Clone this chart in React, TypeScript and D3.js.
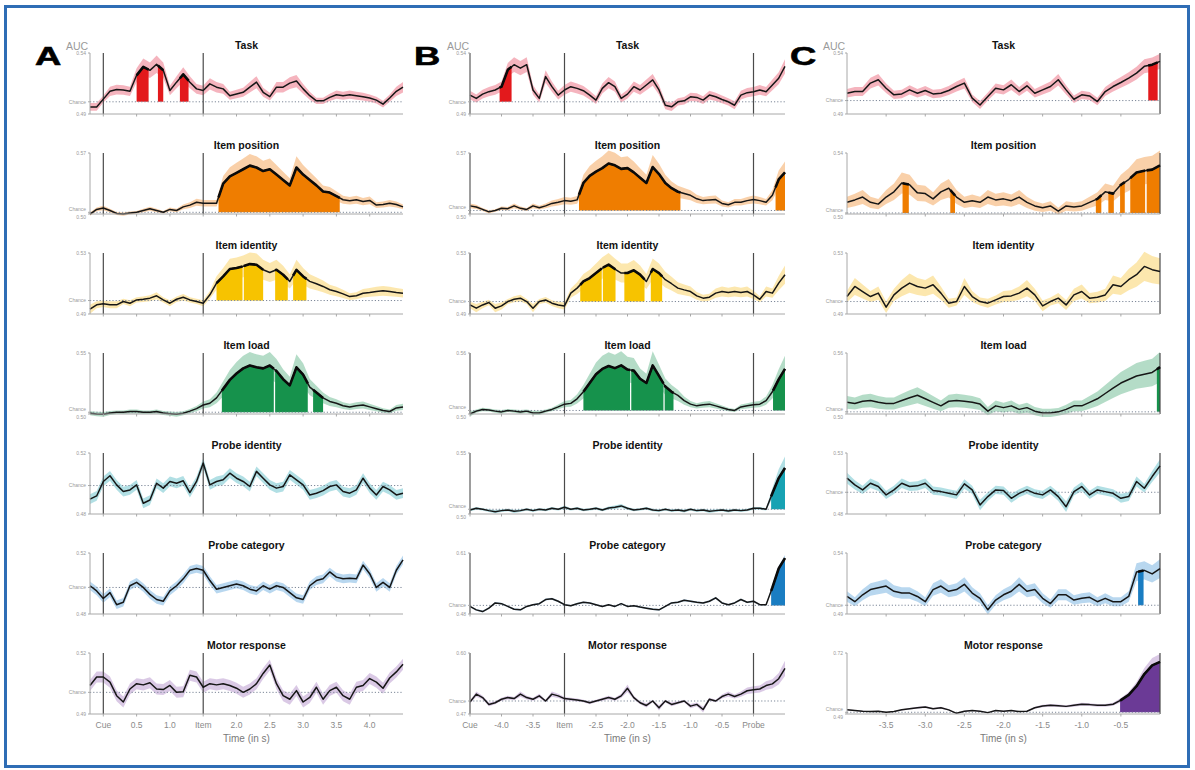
import React from "react";
import * as d3 from "d3";

// ---------- categories / labels ----------
const ROW_TITLES = ["Task", "Item position", "Item identity", "Item load", "Probe identity", "Probe category", "Motor response"];
const FILL_COLORS = ["#e3191c", "#ef7d00", "#f7c300", "#16924c", "#17a2b3", "#1a7dc2", "#6b3a96"];
const BAND_COLORS = ["#f3a7b3", "#f8c89a", "#fbe3a0", "#a7d6bd", "#a3d9df", "#acd0ec", "#d4bfe0"];

const STEP = 0.1;

// ---------- Panel A (time relative to cue, 0.1 s step from -0.2 s) ----------
const A_T0 = -0.2;
const A_task = [.4958,.4958,.5022,.5086,.510,.5097,.5086,.5217,.5286,.5258,.5308,.5258,.5092,.5161,.5225,.5161,.5106,.5092,.5147,.512,.5106,.505,.5064,.5078,.512,.5161,.5078,.5042,.512,.512,.5153,.517,.5106,.505,.5008,.5008,.5036,.5058,.505,.5058,.505,.5042,.5031,.5014,.4981,.5031,.5086,.512];
const A_itemPos = [.4979,.5034,.5051,.5021,.4987,.4979,.4992,.5,.5021,.5042,.5021,.5,.5034,.5021,.5064,.5085,.5119,.5106,.5106,.5106,.5339,.5424,.5466,.5508,.5551,.5529,.5487,.5508,.5445,.5381,.5318,.5529,.5445,.5381,.5318,.5246,.5233,.5191,.5148,.5136,.5148,.5127,.514,.5085,.5093,.5106,.5093,.5064];
const A_itemId = [.4945,.4973,.4979,.4973,.4973,.4994,.4983,.5004,.5008,.5015,.503,.5004,.4983,.5008,.5021,.5004,.4994,.4983,.5036,.511,.5152,.5199,.5205,.5216,.523,.5226,.5194,.5177,.5194,.5163,.5121,.5194,.5152,.5121,.5106,.5089,.5068,.5057,.5042,.5025,.503,.5046,.5051,.5057,.5061,.5057,.5051,.5046];
const A_itemLoad = [.4991,.4985,.4982,.4994,.5,.5,.5006,.5006,.5,.5,.5006,.4994,.4988,.4982,.4991,.5009,.503,.5061,.5076,.5121,.5197,.5273,.5327,.537,.5394,.5379,.537,.5394,.5348,.5279,.5227,.5379,.5318,.5212,.5167,.5121,.5091,.5076,.5055,.5045,.5055,.5061,.5045,.503,.5015,.5006,.5036,.5045];
const A_probeId = [.4916,.4936,.5025,.506,.5004,.4963,.4973,.5004,.4891,.4911,.5014,.4984,.5025,.5014,.5029,.4957,.5025,.5138,.5004,.5025,.5035,.5076,.5045,.5025,.4994,.5087,.5045,.5004,.4984,.4994,.5066,.5035,.5004,.4942,.4953,.4969,.4994,.5004,.4963,.4953,.4973,.5045,.4984,.4942,.4994,.4973,.4942,.4953];
const A_probeCat = [.501,.498,.4936,.497,.49,.4914,.501,.503,.5,.496,.493,.492,.498,.501,.505,.51,.511,.51,.504,.499,.5,.501,.502,.501,.499,.498,.501,.499,.501,.5,.497,.494,.493,.501,.504,.505,.509,.506,.505,.5054,.505,.513,.508,.5,.503,.5,.51,.516];
const A_motor = [.5035,.5078,.5078,.5052,.4983,.4951,.5017,.5044,.5038,.5049,.5017,.5014,.5035,.5,.5003,.5087,.5078,.5026,.5044,.5038,.5044,.5035,.5021,.5,.5017,.5044,.5096,.5139,.5044,.4983,.4965,.5009,.4951,.4974,.5026,.4965,.5009,.5026,.4983,.4965,.5026,.5035,.507,.5052,.5021,.5073,.5104,.5143];
const A_sig = [
  [[0.5, 0.68], [0.82, 0.9], [1.15, 1.28]],
  [[1.73, 3.55]],
  [[1.7, 2.09], [2.11, 2.4], [2.58, 2.77], [2.85, 3.05]],
  [[1.78, 2.56], [2.58, 3.07], [3.15, 3.3]],
  [], [], [],
];
const A_yLo = [0.49, 0.498, 0.4915, 0.4985, 0.4825, 0.4846, 0.489];
const A_yHi = [0.54, 0.57, 0.53, 0.55, 0.52, 0.52, 0.52];
const A_yTopLbl = ["0.54", "0.57", "0.53", "0.55", "0.52", "0.52", "0.52"];
const A_yBotLbl = ["0.49", "0.50", "0.49", "0.50", "0.48", "0.48", "0.49"];
const A_ciBase = [0.0025, 0.0015, 0.0015, 0.0015, 0.003, 0.0025, 0.0028];
const A_ciGain = [0.15, 0.22, 0.25, 0.25, 0, 0, 0];
const A_ticks = [0, 0.5, 1, 1.5, 2, 2.5, 3, 3.5, 4];
const A_tickLbl = ["Cue", "0.5", "1.0", "Item", "2.0", "2.5", "3.0", "3.5", "4.0"];
const A_events = [0, 1.5];

// ---------- Panel B (time relative to probe, from -4.5 s) ----------
const B_T0 = -4.5;
const B_task = [.5055,.5028,.5063,.5083,.5097,.5124,.5262,.5304,.5276,.5304,.5097,.5028,.5207,.5124,.5055,.5097,.5124,.511,.5091,.5055,.5014,.511,.5157,.5124,.5028,.5063,.5124,.5097,.5138,.5179,.5097,.4972,.4959,.5,.5008,.5041,.5036,.5014,.5055,.5041,.5019,.5,.4972,.5055,.5075,.5083,.5097,.5083,.5138,.5193,.529];
const B_itemPos = [.5056,.5043,.5013,.4983,.5,.5026,.5022,.5056,.5026,.5013,.5056,.5034,.5056,.5086,.5099,.512,.5112,.5129,.5335,.5421,.5473,.5516,.5572,.555,.5507,.5516,.5464,.54,.5335,.5529,.5443,.5335,.5271,.5228,.5206,.5185,.5142,.512,.5129,.5133,.5086,.5069,.5099,.5099,.512,.5133,.512,.5099,.5185,.5378,.5464];
const B_itemId = [.4979,.4959,.4979,.4994,.4959,.4973,.5,.5014,.5021,.5,.4959,.5,.501,.499,.4979,.4973,.5052,.5083,.5124,.5145,.5176,.5207,.5228,.5201,.5176,.5176,.5193,.5166,.5124,.5201,.5176,.5135,.511,.5083,.5072,.5062,.5035,.5021,.5027,.5052,.5062,.5056,.5062,.5056,.5062,.5041,.5014,.5062,.5052,.5114,.5166];
const B_itemLoad = [.4963,.4993,.5011,.5004,.4993,.4985,.5,.4993,.4985,.4993,.4974,.4974,.4993,.5011,.5037,.5066,.5074,.5121,.5195,.5287,.5379,.5434,.5464,.5442,.5471,.5427,.5416,.5331,.5287,.5471,.5361,.525,.5195,.5158,.5103,.5066,.5048,.5059,.5066,.5048,.5029,.5011,.5,.5037,.5048,.5059,.5066,.5103,.5195,.5324,.5434];
const B_probeId = [.4994,.5009,.5,.4988,.4979,.4988,.4994,.4982,.4988,.5,.4988,.5,.4994,.5009,.5,.5018,.5,.5009,.4994,.5,.5009,.4994,.5012,.5018,.503,.5009,.4994,.5,.5009,.4994,.4988,.5,.4988,.4994,.4985,.5,.4988,.4994,.4982,.4988,.4994,.4985,.4994,.4988,.4994,.5009,.5009,.5,.5143,.5277,.5367];
const B_probeCat = [.4978,.4906,.487,.4942,.5051,.5036,.4978,.492,.4906,.4978,.5014,.5036,.5123,.5138,.5087,.5014,.4993,.5036,.5065,.5051,.5014,.4978,.5014,.4978,.5036,.4978,.4993,.4964,.4942,.492,.4906,.4978,.5051,.5065,.5109,.5087,.5065,.5051,.5087,.5159,.5051,.5014,.5051,.5123,.5065,.5087,.5014,.5014,.5376,.5775,.5992];
const B_motor = [.4979,.5143,.5071,.4929,.4964,.5036,.5071,.505,.5143,.5071,.5036,.5107,.5,.5143,.5107,.505,.5036,.5021,.5,.4964,.5,.5036,.5071,.5036,.5107,.5264,.5071,.4964,.4907,.5,.4857,.5,.4929,.4964,.5,.4893,.4929,.4822,.5036,.5,.5093,.5143,.5093,.5143,.5214,.5236,.525,.5321,.5357,.5464,.5679];
const B_sig = [
  [[-4.03, -3.84]],
  [[-2.77, -1.16], [0.35, 0.5]],
  [[-2.75, -2.41], [-2.39, -2.19], [-2.05, -1.73], [-1.63, -1.45]],
  [[-2.7, -1.96], [-1.94, -1.43], [-1.41, -1.27], [0.31, 0.5]],
  [[0.28, 0.5]],
  [[0.28, 0.5]],
  [],
];
const B_yLo = [0.49, 0.4957, 0.4923, 0.4963, 0.4958, 0.4819, 0.4729];
const B_yHi = [0.54, 0.57, 0.53, 0.56, 0.55, 0.61, 0.60];
const B_yTopLbl = ["0.54", "0.57", "0.53", "0.56", "0.55", "0.61", "0.60"];
const B_yBotLbl = ["0.49", "0.50", "0.49", "0.50", "0.50", "0.48", "0.47"];
const B_ciBase = [0.003, 0.0015, 0.0015, 0.0015, 0.001, 0.0015, 0.0025];
const B_ciGain = [0.1, 0.25, 0.25, 0.28, 0.25, 0.05, 0.2];
const B_ticks = [-4.5, -4, -3.5, -3, -2.5, -2, -1.5, -1, -0.5, 0];
const B_tickLbl = ["Cue", "-4.0", "-3.5", "Item", "-2.5", "-2.0", "-1.5", "-1.0", "-0.5", "Probe"];
const B_events = [-4.5, -3, 0];

// ---------- Panel C (time relative to response, from -4.0 s) ----------
const C_T0 = -4.0;
const C_task = [.5062,.5076,.5076,.5147,.5175,.5104,.5048,.5056,.509,.5062,.5085,.5056,.5062,.5085,.5118,.5147,.502,.4963,.5034,.5104,.509,.5133,.5076,.5124,.5062,.509,.5118,.5175,.509,.5011,.5048,.5039,.4992,.5076,.5118,.5152,.5189,.5231,.5288,.5302,.533];
const C_itemPos = [.5071,.5087,.5106,.5071,.5059,.5106,.5141,.52,.5188,.5134,.5129,.5094,.5141,.5165,.5106,.5071,.5082,.5071,.5106,.5087,.5094,.5082,.5106,.5071,.5047,.5035,.5047,.5012,.5047,.504,.5047,.5071,.5094,.5141,.5129,.5188,.5223,.527,.5282,.5289,.5317];
const C_itemId = [.5031,.5093,.5062,.5031,.5052,.4965,.5041,.5083,.5114,.5093,.5083,.5104,.5052,.499,.5,.5093,.5031,.5,.499,.501,.5031,.5035,.5052,.5083,.5041,.4973,.5,.5021,.4979,.5041,.5062,.5021,.5027,.5041,.5104,.5093,.5135,.5166,.5217,.5197,.5186];
const C_itemLoad = [.5097,.5086,.5108,.5115,.5097,.5086,.5086,.5115,.5144,.5169,.5133,.5097,.5061,.5108,.5115,.5108,.5097,.5079,.5007,.5061,.5043,.5061,.5025,.5043,.5007,.4989,.4989,.5,.5025,.5061,.5061,.5097,.5133,.5187,.5241,.5294,.533,.5366,.5384,.5402,.5456];
const C_probeId = [.5108,.5056,.5018,.5069,.5044,.498,.5018,.5069,.5044,.5049,.5069,.5013,.5005,.4992,.498,.5064,.5018,.4903,.4967,.5018,.5013,.4954,.4992,.5018,.4992,.498,.5018,.4967,.489,.5005,.5044,.498,.5018,.5005,.4992,.4954,.4967,.5082,.5031,.512,.5202];
const C_probeCat = [.5067,.5027,.508,.512,.5134,.5147,.5107,.5093,.5093,.5067,.5027,.512,.5147,.5107,.512,.516,.5093,.5053,.4965,.504,.508,.5107,.516,.5107,.512,.5053,.5013,.508,.508,.504,.5053,.5061,.5027,.5053,.5027,.5027,.5067,.5254,.5267,.524,.528];
const C_motor = [.509,.5065,.5039,.5026,.5039,.5,.5026,.509,.5129,.5168,.5194,.5129,.5168,.509,.4961,.5039,.5065,.5039,.4987,.5065,.5039,.5065,.5026,.5039,.5168,.5232,.5258,.5245,.5219,.5258,.5297,.5284,.5258,.5258,.5297,.5452,.5645,.5968,.6419,.6742,.6871];
const C_sig = [
  [[-0.15, -0.03]],
  [[-3.29, -3.21], [-2.68, -2.62], [-0.82, -0.75], [-0.66, -0.59], [-0.51, -0.45], [-0.38, -0.19], [-0.17, 0]],
  [],
  [[-0.04, 0]],
  [],
  [[-0.28, -0.21]],
  [[-0.51, 0]],
];
const C_yLo = [0.4887, 0.4993, 0.4923, 0.4978, 0.4834, 0.4933, 0.4936];
const C_yHi = [0.54, 0.54, 0.53, 0.56, 0.53, 0.54, 0.72];
const C_yTopLbl = ["0.54", "0.54", "0.53", "0.56", "0.53", "0.54", "0.72"];
const C_yBotLbl = ["0.49", "0.50", "0.49", "0.50", "0.48", "0.49", "0.49"];
const C_ciBase = [0.003, 0.002, 0.0025, 0.004, 0.003, 0.003, 0.001];
const C_ciGain = [0.1, 0.25, 0.3, 0.25, 0.1, 0.15, 0.15];
const C_ticks = [-3.5, -3, -2.5, -2, -1.5, -1, -0.5];
const C_tickLbl = ["-3.5", "-3.0", "-2.5", "-2.0", "-1.5", "-1.0", "-0.5"];
const C_events = [0];

const CHANCE = 0.5;

const PANELS = [
  { letter: "A", t0: A_T0, domain: [-0.2, 4.5], range: [90, 403], series: [A_task, A_itemPos, A_itemId, A_itemLoad, A_probeId, A_probeCat, A_motor], sig: A_sig, yLo: A_yLo, yHi: A_yHi, topLbl: A_yTopLbl, botLbl: A_yBotLbl, ciBase: A_ciBase, ciGain: A_ciGain, ticks: A_ticks, tickLbl: A_tickLbl, events: A_events, letterX: 35, aucX: 66 },
  { letter: "B", t0: B_T0, domain: [-4.5, 0.5], range: [470, 785], series: [B_task, B_itemPos, B_itemId, B_itemLoad, B_probeId, B_probeCat, B_motor], sig: B_sig, yLo: B_yLo, yHi: B_yHi, topLbl: B_yTopLbl, botLbl: B_yBotLbl, ciBase: B_ciBase, ciGain: B_ciGain, ticks: B_ticks, tickLbl: B_tickLbl, events: B_events, letterX: 414, aucX: 447 },
  { letter: "C", t0: C_T0, domain: [-4, 0], range: [847, 1160], series: [C_task, C_itemPos, C_itemId, C_itemLoad, C_probeId, C_probeCat, C_motor], sig: C_sig, yLo: C_yLo, yHi: C_yHi, topLbl: C_yTopLbl, botLbl: C_yBotLbl, ciBase: C_ciBase, ciGain: C_ciGain, ticks: C_ticks, tickLbl: C_tickLbl, events: C_events, letterX: 790, aucX: 823 },
];

const FONT = "'Liberation Sans', Arial, Helvetica, sans-serif";
const ROW_TOP = 53;
const ROW_H = 61;
const ROW_GAP = 100;

function valueAt(pts: number[][], t: number) {
  for (let i = 0; i < pts.length - 1; i++) {
    const a = pts[i], b = pts[i + 1];
    if (t >= a[0] - 1e-9 && t <= b[0] + 1e-9) {
      const f = (t - a[0]) / (b[0] - a[0]);
      return a[1] + f * (b[1] - a[1]);
    }
  }
  return pts[pts.length - 1][1];
}

function Row({ panel, r }: { panel: any; r: number }) {
  const top = ROW_TOP + ROW_GAP * r;
  const bot = top + ROW_H;
  const x = d3.scaleLinear().domain(panel.domain).range(panel.range);
  const y = d3.scaleLinear().domain([panel.yLo[r], panel.yHi[r]]).range([bot, top]);
  const vals: number[] = panel.series[r];
  const pts = vals.map((v, i) => [+(panel.t0 + i * STEP).toFixed(2), v]);
  const ci = (v: number) => panel.ciBase[r] + panel.ciGain[r] * Math.abs(v - CHANCE);
  const band = d3.area<number[]>().x((d) => x(d[0])).y0((d) => y(d[1] - ci(d[1]))).y1((d) => y(d[1] + ci(d[1])));
  const line = d3.line<number[]>().x((d) => x(d[0])).y((d) => y(d[1]));
  const fillArea = d3.area<number[]>().x((d) => x(d[0])).y0(y(CHANCE)).y1((d) => y(d[1]));
  const x0 = panel.range[0], x1 = panel.range[1];
  const yc = y(CHANCE);
  const tight = bot - yc < 6;
  const chanceLblY = tight ? yc - 1 : yc + 1.8;
  const botLblY = tight ? bot + 5 : bot + 1.8;

  const segs = panel.sig[r].map((iv: number[]) => {
    const [s, e] = iv;
    return [[s, valueAt(pts, s)], ...pts.filter((p) => p[0] > s && p[0] < e), [e, valueAt(pts, e)]];
  });

  return (
    <g>
      <text x={(x0 + x1) / 2} y={top - 4} textAnchor="middle" fontFamily={FONT} fontWeight="bold" fontSize={10.5} fill="#111">
        {ROW_TITLES[r]}
      </text>
      <path d={band(pts) || ""} fill={BAND_COLORS[r]} opacity={0.85} />
      {segs.map((s: number[][], i: number) => (
        <path key={"f" + i} d={fillArea(s) || ""} fill={FILL_COLORS[r]} />
      ))}
      <line x1={x0} x2={x1} y1={yc} y2={yc} stroke="#7c8798" strokeWidth={1} strokeDasharray="1.2,2" />
      {panel.events.map((t: number, i: number) => (
        <line key={"e" + i} x1={x(t)} x2={x(t)} y1={top} y2={bot} stroke="#4a4a4a" strokeWidth={1.2} />
      ))}
      <path d={line(pts) || ""} fill="none" stroke="#161616" strokeWidth={1.5} strokeLinejoin="round" />
      {segs.map((s: number[][], i: number) => (
        <path key={"l" + i} d={line(s) || ""} fill="none" stroke="#0a0a0a" strokeWidth={2.6} strokeLinejoin="round" />
      ))}
      {/* y axis */}
      <line x1={x0} x2={x0} y1={top} y2={bot} stroke="#a8a8a8" strokeWidth={1} />
      <line x1={x0 - 2} x2={x0} y1={top} y2={top} stroke="#a8a8a8" strokeWidth={1} />
      <line x1={x0 - 2} x2={x0} y1={bot} y2={bot} stroke="#a8a8a8" strokeWidth={1} />
      <line x1={x0 - 2} x2={x0} y1={yc} y2={yc} stroke="#a8a8a8" strokeWidth={1} />
      <text x={x0 - 4} y={top + 1.8} textAnchor="end" fontFamily={FONT} fontSize={5} fill="#9a9a9a">{panel.topLbl[r]}</text>
      <text x={x0 - 4} y={chanceLblY} textAnchor="end" fontFamily={FONT} fontSize={5} fill="#9a9a9a">Chance</text>
      <text x={x0 - 4} y={botLblY} textAnchor="end" fontFamily={FONT} fontSize={5} fill="#9a9a9a">{panel.botLbl[r]}</text>
      {/* x axis */}
      <line x1={x0} x2={x1} y1={bot} y2={bot} stroke="#a8a8a8" strokeWidth={1} />
      {panel.ticks.map((t: number, i: number) => (
        <line key={"t" + i} x1={x(t)} x2={x(t)} y1={bot} y2={bot + 2.5} stroke="#a8a8a8" strokeWidth={1} />
      ))}
      {r === ROW_TITLES.length - 1 &&
        panel.ticks.map((t: number, i: number) => (
          <text key={"tl" + i} x={x(t)} y={bot + 14} textAnchor="middle" fontFamily={FONT} fontSize={8.5} fill="#8a8a8a">
            {panel.tickLbl[i]}
          </text>
        ))}
      {r === ROW_TITLES.length - 1 && (
        <text x={(x0 + x1) / 2} y={bot + 28} textAnchor="middle" fontFamily={FONT} fontSize={10} fill="#7a7a7a">
          Time (in s)
        </text>
      )}
    </g>
  );
}

export default function App() {
  return (
    <div style={{ position: "absolute", left: 0, top: 0 }}>
      <svg width={1195} height={770} style={{ display: "block" }}>
        <rect x={0} y={0} width={1195} height={770} fill="#ffffff" />
        <rect x={5.5} y={6.5} width={1183} height={760} fill="none" stroke="#2f6db5" strokeWidth={3} />
        {PANELS.map((p) => (
          <g key={p.letter}>
            <text transform={`translate(${p.letterX},65) scale(1.4,1)`} fontFamily={FONT} fontWeight="bold" fontSize={26} fill="#000" stroke="#000" strokeWidth={0.6}>
              {p.letter}
            </text>
            <text x={p.aucX} y={50} fontFamily={FONT} fontSize={10.5} fill="#9a9a9a">AUC</text>
            {ROW_TITLES.map((_, r) => (
              <Row key={r} panel={p} r={r} />
            ))}
          </g>
        ))}
      </svg>
    </div>
  );
}
